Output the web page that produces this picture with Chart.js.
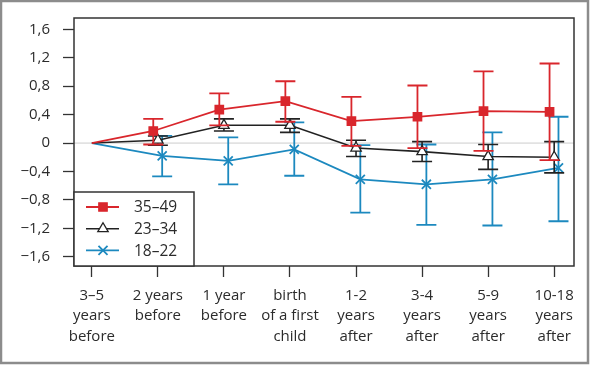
<!DOCTYPE html>
<html>
<head>
<meta charset="utf-8">
<script src="https://cdn.jsdelivr.net/npm/chart.js@4/dist/chart.umd.min.js"></script>
<style>
  body { margin: 0; background: #fff; }
  #wrap { width: 590px; height: 366px; }
</style>
</head>
<body>
<div id="wrap"><canvas id="myChart" width="590" height="366"></canvas></div>
<script>
const ctx = document.getElementById("myChart").getContext("2d");

// categories (x axis)
const labels = [
    ["3–5", "years", "before"],
    ["2 years", "before"],
    ["1 year", "before"],
    ["birth", "of a first", "child"],
    ["1-2", "years", "after"],
    ["3-4", "years", "after"],
    ["5-9", "years", "after"],
    ["10-18", "years", "after"],
];

const yTicks = [-1.6, -1.2, -0.8, -0.4, 0, 0.4, 0.8, 1.2, 1.6];

// 35–49
const age3549 = [0, 0.17, 0.47, 0.59, 0.31, 0.37, 0.45, 0.44];
const age3549Low = [null, -0.02, 0.25, 0.30, -0.04, -0.07, -0.11, -0.24];
const age3549High = [null, 0.34, 0.70, 0.87, 0.65, 0.81, 1.01, 1.12];

// 23–34
const age2334 = [0, 0.04, 0.25, 0.25, -0.07, -0.12, -0.19, -0.20];
const age2334Low = [null, -0.03, 0.17, 0.15, -0.19, -0.26, -0.37, -0.42];
const age2334High = [null, 0.10, 0.34, 0.34, 0.04, 0.02, -0.02, 0.02];

// 18–22
const age1822 = [0, -0.18, -0.25, -0.09, -0.51, -0.58, -0.51, -0.35];
const age1822Low = [null, -0.47, -0.58, -0.46, -0.98, -1.15, -1.16, -1.10];
const age1822High = [null, 0.10, 0.08, 0.29, -0.03, -0.02, 0.15, 0.37];

const RED = "#d9262c";
const BLACK = "#222222";
const BLUE = "#1c89bf";
const FONT = "'Open Sans', 'Noto Sans', sans-serif";
const TEXT = "#2b2b2b";

// small sideways shift so the error bars do not sit on top of each other
function points(values, shift) {
    return values.map((v, i) => ({ x: i === 0 ? 0 : i + shift, y: v }));
}

const data = {
    datasets: [
        {
            label: "35–49",
            data: points(age3549, -0.07),
            low: age3549Low,
            high: age3549High,
            borderColor: RED,
            backgroundColor: RED,
            pointBackgroundColor: RED,
            pointBorderWidth: 1.5,
            pointStyle: "rect",
            pointRadius: (c) => (c.dataIndex === 0 ? 0 : 5.8),
            borderWidth: 1.8,
        },
        {
            label: "23–34",
            data: points(age2334, 0),
            low: age2334Low,
            high: age2334High,
            borderColor: BLACK,
            backgroundColor: "#fff",
            pointBackgroundColor: "#fff",
            pointBorderWidth: 1.3,
            pointStyle: "triangle",
            pointRadius: (c) => (c.dataIndex === 0 ? 0 : 6),
            borderWidth: 1.6,
        },
        {
            label: "18–22",
            data: points(age1822, 0.065),
            low: age1822Low,
            high: age1822High,
            borderColor: BLUE,
            backgroundColor: BLUE,
            pointStyle: "crossRot",
            pointBorderWidth: 1.8,
            pointRadius: (c) => (c.dataIndex === 0 ? 0 : 6.4),
            borderWidth: 1.8,
        },
    ],
};

// frame, zero line, plot box, error bars, legend
const extras = {
    id: "extras",
    beforeDraw(chart) {
        const c = chart.ctx;
        c.save();
        c.fillStyle = "#fff";
        c.fillRect(0, 0, chart.width, chart.height);
        c.strokeStyle = "#8c8c8c";
        c.lineWidth = 2.5;
        c.strokeRect(1, 1, 587, 362);
        c.restore();
    },
    beforeDatasetsDraw(chart) {
        const c = chart.ctx;
        const a = chart.chartArea;
        const y0 = chart.scales.y.getPixelForValue(0);
        c.save();
        c.strokeStyle = "#cccccc";
        c.lineWidth = 1;
        c.beginPath();
        c.moveTo(a.left, y0);
        c.lineTo(a.right, y0);
        c.stroke();
        c.restore();
    },
    beforeDatasetDraw(chart, args) {
        const ds = chart.data.datasets[args.index];
        const xs = chart.scales.x, ys = chart.scales.y;
        const c = chart.ctx;
        c.save();
        c.strokeStyle = ds.borderColor;
        c.lineWidth = ds.borderWidth;
        ds.data.forEach((p, i) => {
            if (ds.low[i] === null) return;
            const x = xs.getPixelForValue(p.x);
            const yl = ys.getPixelForValue(ds.low[i]);
            const yh = ys.getPixelForValue(ds.high[i]);
            c.beginPath();
            c.moveTo(x, yl); c.lineTo(x, yh);
            c.moveTo(x - 10, yl); c.lineTo(x + 10, yl);
            c.moveTo(x - 10, yh); c.lineTo(x + 10, yh);
            c.stroke();
        });
        c.restore();
    },
    afterDraw(chart) {
        const c = chart.ctx;
        const a = chart.chartArea;
        c.save();
        c.strokeStyle = "#333";
        c.lineWidth = 1.5;
        c.strokeRect(a.left, a.top, a.right - a.left, a.bottom - a.top);

        // legend box in the lower left corner
        const lx = a.left, ly = 192, lw = 120, lh = a.bottom - ly;
        c.fillStyle = "#fff";
        c.fillRect(lx, ly, lw, lh);
        c.strokeRect(lx, ly, lw, lh);
        chart.data.datasets.forEach((ds, i) => {
            const yy = 207 + i * 21.7;
            c.strokeStyle = ds.borderColor;
            c.lineWidth = ds.borderWidth;
            c.beginPath();
            c.moveTo(lx + 12, yy);
            c.lineTo(lx + 45, yy);
            c.stroke();
            c.fillStyle = ds.pointBackgroundColor || ds.borderColor;
            c.lineWidth = ds.pointBorderWidth;
            Chart.helpers.drawPoint(c, {
                pointStyle: ds.pointStyle,
                radius: ds.pointStyle === "crossRot" ? 6.4 : ds.pointStyle === "rect" ? 5.8 : 6,
                borderWidth: ds.pointBorderWidth,
            }, lx + 29, yy);
            c.fillStyle = TEXT;
            c.font = "15.5px " + FONT;
            c.textBaseline = "middle";
            c.fillText(ds.label, lx + 60, yy + 1);
        });
        c.restore();
    },
};

const config = {
    type: "line",
    data: data,
    plugins: [extras],
    options: {
        responsive: false,
        animation: false,
        layout: { padding: { top: 18, right: 16, left: 0, bottom: 0 } },
        plugins: {
            legend: { display: false },
            tooltip: { enabled: false },
        },
        scales: {
            x: {
                type: "linear",
                min: -0.27,
                max: 7.3,
                afterFit: (s) => { s.height = 100; s.paddingLeft = 0; s.paddingRight = 0; },
                afterBuildTicks: (s) => { s.ticks = labels.map((l, i) => ({ value: i })); },
                grid: { drawOnChartArea: false, tickLength: 11, tickColor: "#333", tickWidth: 1.3 },
                border: { display: false },
                ticks: {
                    padding: 8,
                    color: TEXT,
                    font: { family: FONT, size: 15, lineHeight: 1.38 },
                    maxRotation: 0,
                    autoSkip: false,
                    callback: (v) => labels[v],
                },
            },
            y: {
                min: -1.73,
                max: 1.76,
                afterFit: (s) => { s.width = 74; s.paddingTop = 0; s.paddingBottom = 0; },
                afterBuildTicks: (s) => { s.ticks = yTicks.map((v) => ({ value: v })); },
                grid: { drawOnChartArea: false, tickLength: 11, tickColor: "#333", tickWidth: 1.3 },
                border: { display: false },
                ticks: {
                    padding: 13,
                    color: TEXT,
                    font: { family: FONT, size: 15 },
                    callback: (v) => {
                        if (v === 0) return "0";
                        return (v < 0 ? "−" : "") + Math.abs(v).toFixed(1).replace(".", ",");
                    },
                },
            },
        },
    },
};

const myChart = new Chart(ctx, config);
</script>
</body>
</html>
